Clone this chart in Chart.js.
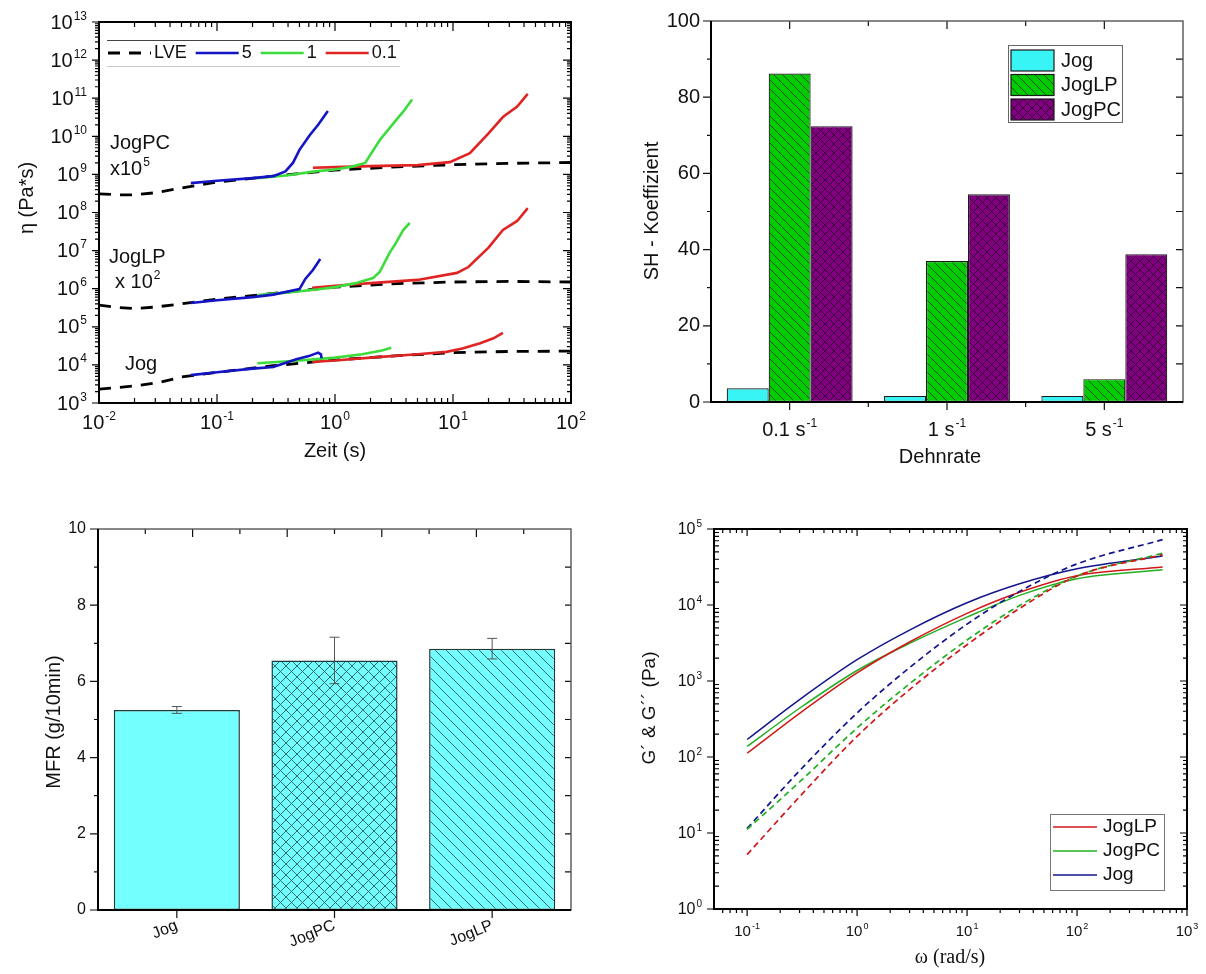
<!DOCTYPE html>
<html>
<head>
<meta charset="utf-8">
<script src="https://cdn.jsdelivr.net/npm/chart.js@4.4.1/dist/chart.umd.min.js"></script>
<style>
  html, body { margin: 0; padding: 0; background: #fff; }
  #wrap { position: relative; width: 1206px; height: 974px; overflow: hidden; }
  canvas { position: absolute; }
</style>
</head>
<body>
<div id="wrap">
  <canvas id="c1" width="600" height="490" style="left:0;top:0"></canvas>
  <canvas id="c2" width="606" height="490" style="left:600px;top:0"></canvas>
  <canvas id="c3" width="600" height="484" style="left:0;top:490px"></canvas>
  <canvas id="c4" width="606" height="484" style="left:600px;top:490px"></canvas>
</div>
<script>
const FONT = '"Liberation Sans", Arial, sans-serif';
const SERIF = '"Liberation Serif", "Times New Roman", serif';

// ---------- panel 1: transient elongational viscosity ----------
const timeMin = 0.01, timeMax = 100;
const etaMin = 1e3, etaMax = 1e13;

// JogPC (x1e5)
const pcLveT = [0.01, 0.015, 0.02, 0.03, 0.05, 0.1, 0.3, 1, 3, 10, 30, 100];
const pcLveEta = [3.1e8, 2.9e8, 2.9e8, 3.3e8, 4.4e8, 6.3e8, 9e8, 1.3e9, 1.55e9, 1.8e9, 1.95e9, 2.05e9];
const pc5T = [0.06, 0.1, 0.2, 0.3, 0.38, 0.44, 0.5, 0.61, 0.72, 0.87];
const pc5Eta = [5.9e8, 6.8e8, 8e8, 9e8, 1.2e9, 2e9, 4.4e9, 1.07e10, 2e10, 4.6e10];
const pc1T = [0.22, 0.4, 0.68, 1, 1.4, 1.8, 2.4, 3.2, 3.8, 4.5];
const pc1Eta = [8e8, 9.5e8, 1.2e9, 1.35e9, 1.6e9, 2e9, 8e9, 2.4e10, 4.5e10, 9.3e10];
const pc01T = [0.65, 1, 2, 5, 9.4, 13.9, 20, 26.5, 35, 43];
const pc01Eta = [1.5e9, 1.55e9, 1.65e9, 1.75e9, 2.1e9, 3.6e9, 1.2e10, 3.2e10, 6e10, 1.3e11];

// JogLP (x1e2)
const lpLveT = [0.01, 0.015, 0.02, 0.03, 0.05, 0.1, 0.3, 1, 3, 10, 30, 100];
const lpLveEta = [3.7e5, 3.2e5, 3e5, 3.3e5, 4e5, 5.3e5, 7.5e5, 1.1e6, 1.35e6, 1.5e6, 1.55e6, 1.5e6];
const lp5T = [0.06, 0.1, 0.2, 0.3, 0.5, 0.56, 0.65, 0.75];
const lp5Eta = [4.2e5, 5e5, 6e5, 7e5, 9.8e5, 1.8e6, 3.1e6, 6e6];
const lp1T = [0.22, 0.4, 0.7, 1, 1.5, 2.1, 2.4, 2.9, 3.2, 3.8, 4.3];
const lp1Eta = [6.8e5, 8e5, 9.5e5, 1.1e6, 1.4e6, 1.9e6, 2.8e6, 8.7e6, 1.4e7, 3.5e7, 5.3e7];
const lp01T = [0.64, 1, 2, 5, 10.8, 13.5, 20, 26.5, 35, 43];
const lp01Eta = [1.05e6, 1.2e6, 1.4e6, 1.7e6, 2.6e6, 3.7e6, 1.2e7, 3.5e7, 6e7, 1.3e8];

// Jog
const jLveT = [0.01, 0.02, 0.033, 0.05, 0.1, 0.3, 1, 3, 10, 30, 100];
const jLveEta = [2.3e3, 2.8e3, 3.5e3, 4.8e3, 6.4e3, 9.5e3, 1.35e4, 1.7e4, 2.1e4, 2.25e4, 2.3e4];
const j5T = [0.06, 0.1, 0.2, 0.3, 0.47, 0.6, 0.72, 0.76, 0.77];
const j5Eta = [5.4e3, 6.4e3, 8e3, 8.8e3, 1.4e4, 1.7e4, 2.1e4, 1.9e4, 1.5e4];
const j1T = [0.22, 0.5, 1, 1.7, 2.5, 3];
const j1Eta = [1.1e4, 1.3e4, 1.55e4, 1.9e4, 2.4e4, 2.8e4];
const j01T = [0.64, 1, 2, 5, 8.8, 12, 17, 22, 26.5];
const j01Eta = [1.2e4, 1.3e4, 1.55e4, 1.9e4, 2.2e4, 2.7e4, 3.7e4, 5e4, 6.9e4];

const legend1Labels = ['LVE', '5', '1', '0.1'];
const legend1Keys = ['lve', 'r5', 'r1', 'r01'];

// ---------- panel 2: strain hardening ----------
const rateBase = ['0.1 s', '1 s', '5 s'];
const rateSup = '-1';
const shJog = [3.6, 1.6, 1.6];
const shJogLP = [86.2, 37, 6];
const shJogPC = [72.4, 54.5, 38.8];

// ---------- panel 3: MFR ----------
const mfrNames = ['Jog', 'JogPC', 'JogLP'];
const mfrValues = [5.25, 6.55, 6.86];
const mfrErr = [0.09, 0.61, 0.27];
const mfrTopTicksMajor = [0.1, 0.7, 1.3, 1.9];
const mfrTopTicksMinor = [-0.2, 0.4, 1.0, 1.6, 2.2];

// ---------- panel 4: frequency sweep ----------
const omega = [0.1, 0.3, 1, 3, 10, 30, 100, 600];
const gLossLP = [112, 376, 1280, 3260, 7760, 1.47e4, 2.43e4, 3.16e4];
const gLossPC = [138, 438, 1374, 3130, 6930, 1.34e4, 2.22e4, 2.91e4];
const gLossJog = [170, 569, 1905, 4680, 1.07e4, 1.9e4, 3.0e4, 4.4e4];
const gStoreLP = [5.2, 30, 187, 770, 3000, 9000, 2.4e4, 4.6e4];
const gStorePC = [11.2, 47, 241, 920, 3460, 9820, 2.42e4, 4.79e4];
const gStoreJog = [11.5, 66, 380, 1500, 5600, 1.51e4, 3.47e4, 7.24e4];
const legend4Labels = ['JogLP', 'JogPC', 'Jog'];

// ---------- helpers ----------
const rateColors = { lve: '#000000', r5: '#1414c4', r1: '#3ddc3d', r01: '#e02424' };
const matColors = { JogLP: '#d01818', JogPC: '#22b022', Jog: '#14148c' };

function logTicks(min, max) {
  const major = [], minor = [];
  for (let e = Math.floor(Math.log10(min)); e <= Math.ceil(Math.log10(max)); e++) {
    const b = Math.pow(10, e);
    if (b >= min * 0.999 && b <= max * 1.001) major.push(b);
    for (let k = 2; k < 10; k++) { const v = k * b; if (v > min && v < max) minor.push(v); }
  }
  return { major, minor };
}

function areaLayout(W, H, a) {
  return {
    padding: { left: 0, top: a.top, right: W - a.right, bottom: 0 },
    yFit: s => { s.width = a.left; s.paddingTop = 0; s.paddingBottom = 0; },
    xFit: s => { s.height = H - a.bottom; s.paddingLeft = 0; s.paddingRight = 0; }
  };
}

function ticksOn(ctx, chart, axis, side, values, len, dir) {
  const a = chart.chartArea, sc = chart.scales[axis];
  ctx.beginPath();
  values.forEach(v => {
    const p = sc.getPixelForValue(v);
    if (side === 'bottom' || side === 'top') {
      const y0 = side === 'bottom' ? a.bottom : a.top;
      const s = (side === 'bottom') === (dir === 'out') ? 1 : -1;
      ctx.moveTo(p, y0); ctx.lineTo(p, y0 + s * len);
    } else {
      const x0 = side === 'left' ? a.left : a.right;
      const s = (side === 'left') === (dir === 'out') ? -1 : 1;
      ctx.moveTo(x0, p); ctx.lineTo(x0 + s * len, p);
    }
  });
  ctx.stroke();
}

// text with a raised exponent; y is the vertical middle of the base text
function supText(ctx, base, sup, x, y, size, align, family) {
  const fam = family || FONT;
  const es = Math.round(size * 0.62);
  ctx.font = size + 'px ' + fam;
  const wb = ctx.measureText(base).width;
  ctx.font = es + 'px ' + fam;
  const we = ctx.measureText(sup).width;
  const tot = wb + 1 + we;
  const x0 = align === 'right' ? x - tot : align === 'center' ? x - tot / 2 : x;
  ctx.textAlign = 'left';
  ctx.textBaseline = 'middle';
  ctx.font = size + 'px ' + fam;
  ctx.fillText(base, x0, y);
  ctx.font = es + 'px ' + fam;
  ctx.fillText(sup, x0 + wb + 1, y - size * 0.34);
}

function vText(ctx, text, x, y, font) {
  ctx.save();
  ctx.translate(x, y);
  ctx.rotate(-Math.PI / 2);
  ctx.font = font;
  ctx.textAlign = 'center';
  ctx.textBaseline = 'middle';
  ctx.fillText(text, 0, 0);
  ctx.restore();
}

function hatch(bg, line, size, dirs, lw) {
  const c = document.createElement('canvas');
  c.width = c.height = size;
  const g = c.getContext('2d');
  g.fillStyle = bg; g.fillRect(0, 0, size, size);
  g.strokeStyle = line; g.lineWidth = lw;
  dirs.forEach(d => {
    for (let k = -1; k <= 1; k++) {
      g.beginPath();
      if (d === '\\') { g.moveTo(k * size, 0); g.lineTo(k * size + size, size); }
      else { g.moveTo(k * size, size); g.lineTo(k * size + size, 0); }
      g.stroke();
    }
  });
  return g.createPattern(c, 'repeat');
}

function frame(ctx, a, lw, color) {
  ctx.strokeStyle = color; ctx.lineWidth = lw;
  ctx.strokeRect(a.left, a.top, a.right - a.left, a.bottom - a.top);
}

// ================= chart 1 =================
const L1 = areaLayout(600, 490, { left: 99, top: 22, right: 571, bottom: 403 });
const timeTicks = logTicks(timeMin, timeMax);
const etaTicks = logTicks(etaMin, etaMax);

function curve(ts, es, key) {
  return {
    data: ts.map((t, i) => ({ x: t, y: es[i] })),
    showLine: true, pointRadius: 0, fill: false, tension: 0,
    borderColor: rateColors[key],
    borderWidth: key === 'lve' ? 2.8 : 2.6,
    borderDash: key === 'lve' ? [12, 9] : [],
    order: key === 'lve' ? 2 : 1
  };
}

new Chart(document.getElementById('c1'), {
  type: 'scatter',
  data: {
    datasets: [
      curve(pcLveT, pcLveEta, 'lve'), curve(lpLveT, lpLveEta, 'lve'), curve(jLveT, jLveEta, 'lve'),
      curve(pc5T, pc5Eta, 'r5'), curve(pc1T, pc1Eta, 'r1'), curve(pc01T, pc01Eta, 'r01'),
      curve(lp5T, lp5Eta, 'r5'), curve(lp1T, lp1Eta, 'r1'), curve(lp01T, lp01Eta, 'r01'),
      curve(j5T, j5Eta, 'r5'), curve(j1T, j1Eta, 'r1'), curve(j01T, j01Eta, 'r01')
    ]
  },
  options: {
    responsive: false, animation: false,
    layout: { padding: L1.padding },
    plugins: { legend: { display: false }, tooltip: { enabled: false } },
    scales: {
      x: {
        type: 'logarithmic', min: timeMin, max: timeMax, afterFit: L1.xFit,
        afterBuildTicks: s => { s.ticks = timeTicks.major.map(v => ({ value: v })); },
        ticks: { display: false }, grid: { display: false, drawTicks: false }, border: { display: false }
      },
      y: {
        type: 'logarithmic', min: etaMin, max: etaMax, afterFit: L1.yFit,
        afterBuildTicks: s => { s.ticks = etaTicks.major.map(v => ({ value: v })); },
        ticks: { display: false }, grid: { display: false, drawTicks: false }, border: { display: false }
      }
    }
  },
  plugins: [{
    id: 'deco1',
    afterDraw(c) {
      const ctx = c.ctx, a = c.chartArea;
      ctx.save();
      ctx.strokeStyle = '#000'; ctx.lineWidth = 1.2;
      ticksOn(ctx, c, 'x', 'bottom', timeTicks.major, 9, 'in');
      ticksOn(ctx, c, 'x', 'bottom', timeTicks.minor, 5, 'in');
      ticksOn(ctx, c, 'x', 'top', timeTicks.major, 9, 'in');
      ticksOn(ctx, c, 'x', 'top', timeTicks.minor, 5, 'in');
      ticksOn(ctx, c, 'y', 'left', etaTicks.major, 7, 'out');
      ticksOn(ctx, c, 'y', 'left', etaTicks.minor, 4, 'out');
      ticksOn(ctx, c, 'y', 'right', etaTicks.major, 8, 'in');
      ticksOn(ctx, c, 'y', 'right', etaTicks.minor, 4, 'in');
      frame(ctx, a, 2, '#000');

      ctx.fillStyle = '#111';
      etaTicks.major.forEach(v => supText(ctx, '10', String(Math.round(Math.log10(v))), a.left - 12, c.scales.y.getPixelForValue(v) + 1, 20, 'right'));
      timeTicks.major.forEach(v => supText(ctx, '10', String(Math.round(Math.log10(v))), c.scales.x.getPixelForValue(v), a.bottom + 20, 20, 'center'));

      vText(ctx, 'η (Pa*s)', 27, 198, '20px ' + FONT);
      ctx.font = '20px ' + FONT; ctx.textAlign = 'center'; ctx.textBaseline = 'middle';
      ctx.fillText('Zeit (s)', 335, 451);

      // group annotations
      ctx.textAlign = 'left'; ctx.textBaseline = 'alphabetic';
      ctx.fillText('JogPC', 110, 149);
      supText(ctx, 'x10', '5', 110, 169, 20, 'left');
      ctx.font = '20px ' + FONT; ctx.textAlign = 'left'; ctx.textBaseline = 'alphabetic';
      ctx.fillText('JogLP', 109, 263);
      supText(ctx, 'x 10', '2', 115, 282, 20, 'left');
      ctx.font = '20px ' + FONT; ctx.textAlign = 'left'; ctx.textBaseline = 'alphabetic';
      ctx.fillText('Jog', 125, 370);

      // legend
      ctx.lineWidth = 1; ctx.strokeStyle = '#444';
      ctx.beginPath(); ctx.moveTo(107, 40.5); ctx.lineTo(400, 40.5); ctx.stroke();
      ctx.strokeStyle = '#ccc';
      ctx.beginPath(); ctx.moveTo(107, 66.5); ctx.lineTo(400, 66.5); ctx.stroke();
      ctx.font = '18px ' + FONT; ctx.textBaseline = 'middle'; ctx.textAlign = 'left';
      let lx = 108;
      legend1Labels.forEach((lab, i) => {
        const key = legend1Keys[i];
        ctx.strokeStyle = rateColors[key];
        ctx.lineWidth = key === 'lve' ? 2.8 : 2.6;
        ctx.setLineDash(key === 'lve' ? [12, 9] : []);
        ctx.beginPath(); ctx.moveTo(lx, 53); ctx.lineTo(lx + 43, 53); ctx.stroke();
        ctx.setLineDash([]);
        ctx.fillStyle = '#111';
        ctx.fillText(lab, lx + 46, 53);
        lx += 46 + ctx.measureText(lab).width + 9;
      });
      ctx.restore();
    }
  }]
});

// ================= chart 2 =================
const L2 = areaLayout(606, 490, { left: 111, top: 21, right: 583, bottom: 402 });
const greenHatch = hatch('#00cc00', '#1f4f1f', 9, ['\\'], 1);
const purpleHatch = hatch('#800080', '#3c003c', 9, ['\\', '/'], 1);
const shColors = ['#38f4f4', greenHatch, purpleHatch];
const shNames = ['Jog', 'JogLP', 'JogPC'];

new Chart(document.getElementById('c2'), {
  type: 'bar',
  data: {
    labels: rateBase,
    datasets: [shJog, shJogLP, shJogPC].map((d, i) => ({
      label: shNames[i], data: d, backgroundColor: shColors[i],
      borderColor: '#1a1a1a', borderWidth: 1.2, borderSkipped: false,
      categoryPercentage: 0.8, barPercentage: 1.0
    }))
  },
  options: {
    responsive: false, animation: false,
    layout: { padding: L2.padding },
    plugins: { legend: { display: false }, tooltip: { enabled: false } },
    scales: {
      x: { afterFit: L2.xFit, ticks: { display: false }, grid: { display: false, drawTicks: false }, border: { display: false } },
      y: {
        min: 0, max: 100, afterFit: L2.yFit,
        ticks: { stepSize: 20, padding: 11, color: '#111', font: { size: 20, family: FONT } },
        grid: { display: false, drawTicks: false }, border: { display: false }
      }
    }
  },
  plugins: [{
    id: 'deco2',
    afterDraw(c) {
      const ctx = c.ctx, a = c.chartArea;
      ctx.save();
      ctx.strokeStyle = '#111'; ctx.lineWidth = 1.2;
      ticksOn(ctx, c, 'y', 'left', [0, 20, 40, 60, 80, 100], 8, 'out');
      ticksOn(ctx, c, 'y', 'left', [10, 30, 50, 70, 90], 4, 'out');
      ticksOn(ctx, c, 'y', 'right', [10, 20, 30, 40, 50, 60, 70, 80, 90], 7, 'in');
      ticksOn(ctx, c, 'x', 'bottom', [0, 1, 2], 8, 'out');
      ticksOn(ctx, c, 'x', 'bottom', [0.5, 1.5], 5, 'out');
      ticksOn(ctx, c, 'x', 'top', [0, 1, 2], 8, 'in');
      ticksOn(ctx, c, 'x', 'top', [0.5, 1.5], 5, 'in');
      frame(ctx, a, 1.4, '#555');
      ctx.strokeStyle = '#000'; ctx.lineWidth = 2;
      ctx.beginPath(); ctx.moveTo(a.left, a.top); ctx.lineTo(a.left, a.bottom); ctx.lineTo(a.right, a.bottom); ctx.stroke();

      ctx.fillStyle = '#111';
      rateBase.forEach((lab, i) => supText(ctx, lab, rateSup, c.scales.x.getPixelForValue(i), a.bottom + 28, 20, 'center'));
      vText(ctx, 'SH - Koeffizient', 52, 211, '20px ' + FONT);
      ctx.font = '20px ' + FONT; ctx.textAlign = 'center'; ctx.textBaseline = 'middle';
      ctx.fillText('Dehnrate', 340, 457);

      // legend
      ctx.lineWidth = 1; ctx.strokeStyle = '#666';
      ctx.strokeRect(408.5, 45.5, 114, 77);
      shNames.forEach((n, i) => {
        const y = 50 + i * 24.5;
        ctx.fillStyle = shColors[i];
        ctx.fillRect(411, y, 43, 21);
        ctx.strokeStyle = '#1a1a1a'; ctx.lineWidth = 1.2;
        ctx.strokeRect(411, y, 43, 21);
        ctx.fillStyle = '#111'; ctx.font = '20px ' + FONT;
        ctx.textAlign = 'left'; ctx.textBaseline = 'middle';
        ctx.fillText(n, 461, y + 11);
      });
      ctx.restore();
    }
  }]
});

// ================= chart 3 =================
const L3 = areaLayout(600, 484, { left: 98, top: 39, right: 571, bottom: 420 });
const cyanCross = hatch('#73ffff', '#2f6f6f', 11, ['\\', '/'], 1);
const cyanDiag = hatch('#73ffff', '#2f6f6f', 11, ['\\'], 1);

new Chart(document.getElementById('c3'), {
  type: 'bar',
  data: {
    labels: mfrNames,
    datasets: [{
      data: mfrValues, backgroundColor: ['#73ffff', cyanCross, cyanDiag],
      borderColor: '#1e3a3a', borderWidth: 1.5, borderSkipped: false,
      categoryPercentage: 0.8, barPercentage: 1.0
    }]
  },
  options: {
    responsive: false, animation: false,
    layout: { padding: L3.padding },
    plugins: { legend: { display: false }, tooltip: { enabled: false } },
    scales: {
      x: {
        afterFit: L3.xFit,
        ticks: { minRotation: 22, maxRotation: 22, padding: 6, color: '#111', font: { size: 16, family: FONT } },
        grid: { display: false, drawTicks: false }, border: { display: false }
      },
      y: {
        min: 0, max: 10, afterFit: L3.yFit,
        ticks: { stepSize: 2, padding: 12, color: '#111', font: { size: 16, family: FONT } },
        grid: { display: false, drawTicks: false }, border: { display: false }
      }
    }
  },
  plugins: [{
    id: 'deco3',
    afterDatasetsDraw(c) {
      const ctx = c.ctx, y = c.scales.y;
      const bars = c.getDatasetMeta(0).data;
      ctx.save();
      ctx.strokeStyle = '#555'; ctx.lineWidth = 1;
      bars.forEach((b, i) => {
        const yt = y.getPixelForValue(mfrValues[i] + mfrErr[i]);
        const yb = y.getPixelForValue(mfrValues[i] - mfrErr[i]);
        ctx.beginPath();
        ctx.moveTo(b.x, yt); ctx.lineTo(b.x, yb);
        ctx.moveTo(b.x - 5, yt); ctx.lineTo(b.x + 5, yt);
        ctx.moveTo(b.x - 5, yb); ctx.lineTo(b.x + 5, yb);
        ctx.stroke();
      });
      ctx.restore();
    },
    afterDraw(c) {
      const ctx = c.ctx, a = c.chartArea;
      ctx.save();
      ctx.strokeStyle = '#111'; ctx.lineWidth = 1.2;
      ticksOn(ctx, c, 'y', 'left', [0, 2, 4, 6, 8, 10], 8, 'out');
      ticksOn(ctx, c, 'y', 'left', [1, 3, 5, 7, 9], 4, 'out');
      ticksOn(ctx, c, 'y', 'right', [1, 2, 3, 4, 5, 6, 7, 8, 9], 6, 'in');
      ticksOn(ctx, c, 'x', 'bottom', [0, 1, 2], 8, 'out');
      ticksOn(ctx, c, 'x', 'top', mfrTopTicksMajor, 8, 'in');
      ticksOn(ctx, c, 'x', 'top', mfrTopTicksMinor, 5, 'in');
      frame(ctx, a, 1.4, '#555');
      ctx.strokeStyle = '#000'; ctx.lineWidth = 2;
      ctx.beginPath(); ctx.moveTo(a.left, a.top); ctx.lineTo(a.left, a.bottom); ctx.lineTo(a.right, a.bottom); ctx.stroke();
      ctx.fillStyle = '#111';
      vText(ctx, 'MFR (g/10min)', 54, 232, '20px ' + FONT);
      ctx.restore();
    }
  }]
});

// ================= chart 4 =================
const L4 = areaLayout(606, 484, { left: 114, top: 39, right: 587, bottom: 419 });
const omegaTicks = logTicks(0.05, 1000);
const omegaMajor = omegaTicks.major;
const gTicks = logTicks(1, 1e5);

function freqCurve(vals, name, dashed) {
  return {
    data: omega.map((w, i) => ({ x: w, y: vals[i] })),
    showLine: true, pointRadius: 0, fill: false,
    cubicInterpolationMode: 'monotone',
    borderColor: matColors[name], borderWidth: dashed ? 1.7 : 1.5,
    borderDash: dashed ? [6, 4] : []
  };
}

new Chart(document.getElementById('c4'), {
  type: 'scatter',
  data: {
    datasets: [
      freqCurve(gStoreLP, 'JogLP', true), freqCurve(gStorePC, 'JogPC', true), freqCurve(gStoreJog, 'Jog', true),
      freqCurve(gLossLP, 'JogLP', false), freqCurve(gLossPC, 'JogPC', false), freqCurve(gLossJog, 'Jog', false)
    ]
  },
  options: {
    responsive: false, animation: false,
    layout: { padding: L4.padding },
    plugins: { legend: { display: false }, tooltip: { enabled: false } },
    scales: {
      x: {
        type: 'logarithmic', min: 0.05, max: 1000, afterFit: L4.xFit,
        afterBuildTicks: s => { s.ticks = omegaMajor.map(v => ({ value: v })); },
        ticks: { display: false }, grid: { display: false, drawTicks: false }, border: { display: false }
      },
      y: {
        type: 'logarithmic', min: 1, max: 1e5, afterFit: L4.yFit,
        afterBuildTicks: s => { s.ticks = gTicks.major.map(v => ({ value: v })); },
        ticks: { display: false }, grid: { display: false, drawTicks: false }, border: { display: false }
      }
    }
  },
  plugins: [{
    id: 'deco4',
    afterDraw(c) {
      const ctx = c.ctx, a = c.chartArea;
      ctx.save();
      ctx.strokeStyle = '#000'; ctx.lineWidth = 1.2;
      ticksOn(ctx, c, 'x', 'bottom', omegaMajor, 7, 'out');
      ticksOn(ctx, c, 'x', 'bottom', omegaTicks.minor, 4, 'out');
      ticksOn(ctx, c, 'x', 'top', omegaMajor, 7, 'in');
      ticksOn(ctx, c, 'x', 'top', omegaTicks.minor, 4, 'in');
      ticksOn(ctx, c, 'y', 'left', gTicks.major, 7, 'out');
      ticksOn(ctx, c, 'y', 'left', gTicks.minor, 5, 'in');
      ticksOn(ctx, c, 'y', 'right', gTicks.major, 7, 'in');
      ticksOn(ctx, c, 'y', 'right', gTicks.minor, 4, 'in');
      frame(ctx, a, 2, '#000');

      ctx.fillStyle = '#111';
      gTicks.major.forEach(v => supText(ctx, '10', String(Math.round(Math.log10(v))), a.left - 12, c.scales.y.getPixelForValue(v) + 1, 16, 'right'));
      omegaMajor.filter(v => v >= 0.1).forEach(v => supText(ctx, '10', String(Math.round(Math.log10(v))), c.scales.x.getPixelForValue(v), a.bottom + 23, 15, 'center'));

      vText(ctx, 'G´ & G´´ (Pa)', 50, 218, '19px ' + FONT);
      ctx.font = '20px ' + SERIF; ctx.textAlign = 'center'; ctx.textBaseline = 'middle';
      ctx.fillText('ω (rad/s)', 350, 468);

      // legend
      ctx.lineWidth = 1; ctx.strokeStyle = '#777';
      ctx.strokeRect(450.5, 324.5, 114, 76);
      legend4Labels.forEach((n, i) => {
        const y = 337 + i * 24;
        ctx.strokeStyle = matColors[n]; ctx.lineWidth = 1.6;
        ctx.beginPath(); ctx.moveTo(453, y); ctx.lineTo(497, y); ctx.stroke();
        ctx.fillStyle = '#111'; ctx.font = '19px ' + FONT;
        ctx.textAlign = 'left'; ctx.textBaseline = 'middle';
        ctx.fillText(n, 503, y);
      });
      ctx.restore();
    }
  }]
});
</script>
</body>
</html>
